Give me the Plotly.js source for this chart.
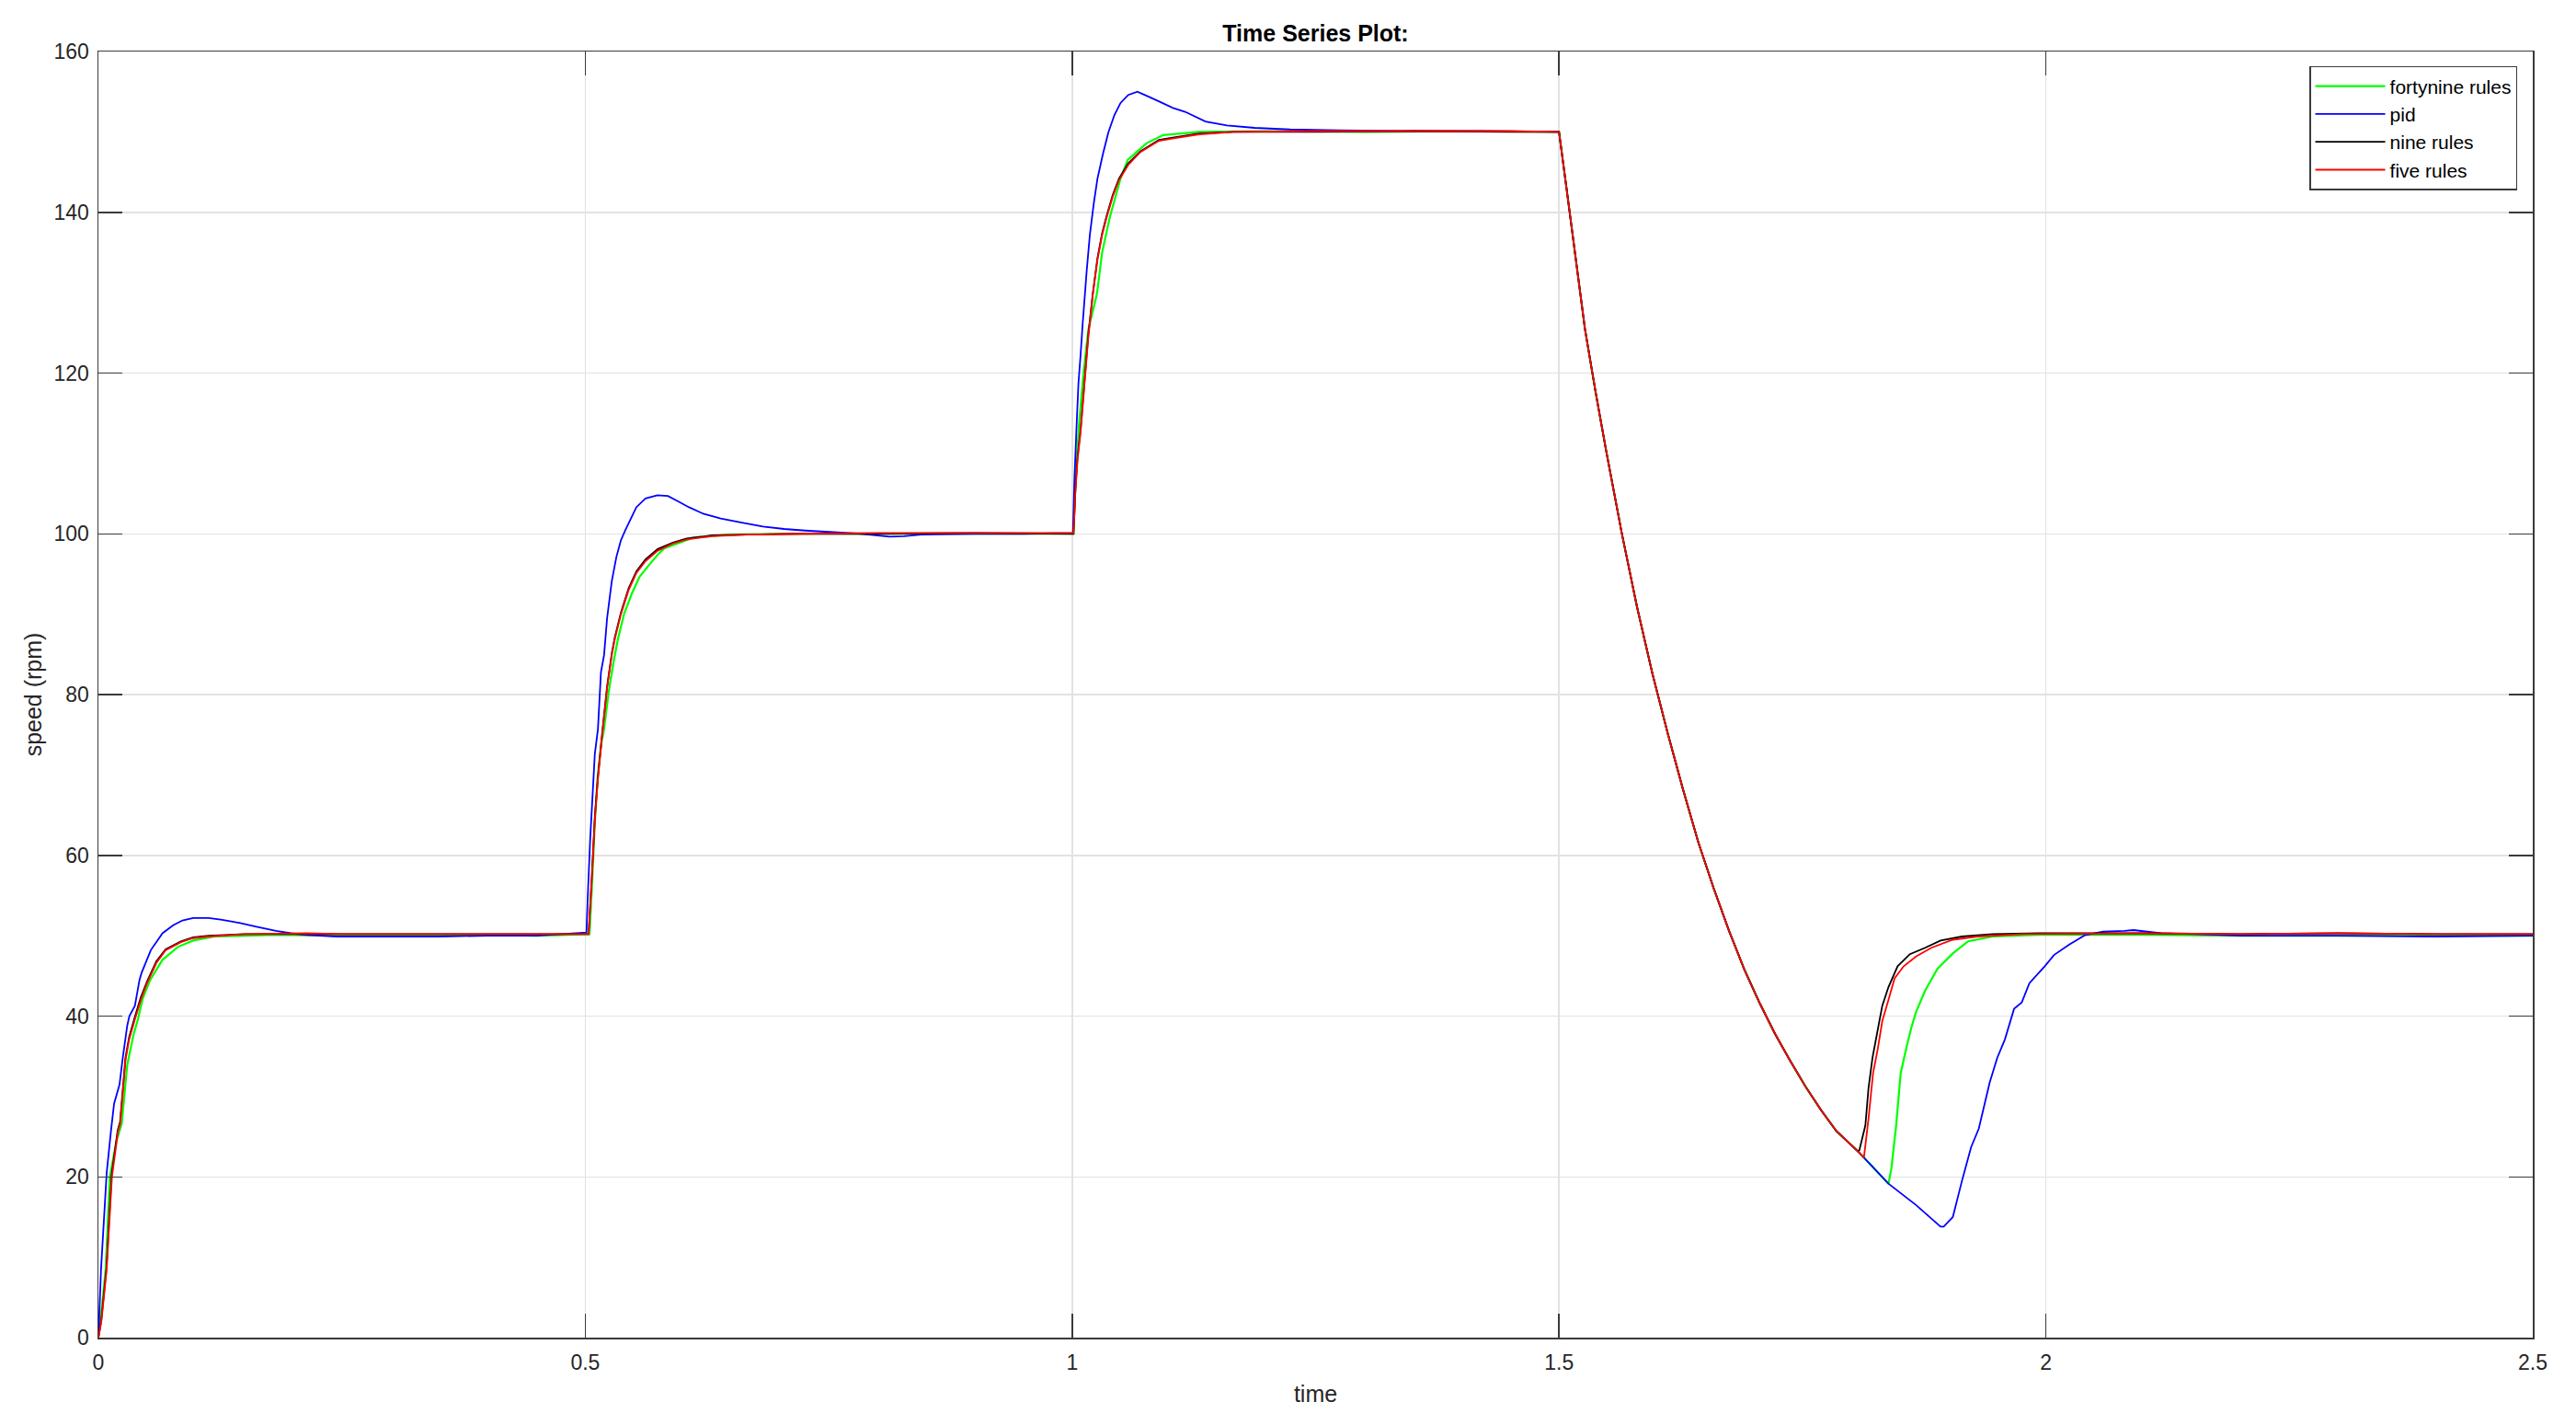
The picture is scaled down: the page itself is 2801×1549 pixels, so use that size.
<!DOCTYPE html>
<html>
<head>
<meta charset="utf-8">
<script src="https://cdn.plot.ly/plotly-3.0.1.min.js"></script>
<style>
  html, body { margin: 0; padding: 0; background: #ffffff; }
  #chart { width: 2801px; height: 1549px; }
</style>
</head>
<body>
<div id="chart"></div>
<script>
// ---- data ----
const seriesNames = ["fortynine rules", "pid", "nine rules", "five rules"];
const seriesColors = ["#00ff00", "#0000ff", "#000000", "#ff0000"];
const xTickValues = [0, 0.5, 1, 1.5, 2, 2.5];
const yTickValues = [0, 20, 40, 60, 80, 100, 120, 140, 160];

const timeFortynine = [0, 0.0025, 0.0075, 0.0117, 0.0186, 0.0239, 0.0296, 0.0359, 0.0406, 0.0453, 0.0532, 0.0658, 0.0816, 0.0973, 0.119, 0.15, 0.182, 0.25, 0.30, 0.35, 0.40, 0.45,
  0.5043, 0.507, 0.5098, 0.5125, 0.5165, 0.5193, 0.524, 0.5287, 0.5335, 0.5398, 0.5476, 0.5555, 0.5653, 0.5744, 0.5813, 0.6102, 0.6464, 0.70, 0.80, 0.90,
  1.0014, 1.0039, 1.0071, 1.0118, 1.0166, 1.0254, 1.0308, 1.0387, 1.0497, 1.057, 1.0765, 1.0936, 1.13, 1.2, 1.3, 1.4,
  1.5, 1.5077, 1.5171, 1.5266, 1.5376, 1.5486, 1.5644, 1.5801, 1.5959, 1.6116, 1.6273, 1.6431, 1.6588, 1.6746, 1.6903, 1.7061, 1.7218, 1.7376, 1.7533, 1.7691, 1.7848, 1.8068, 1.8131, 1.8383,
  1.8414, 1.8462, 1.8509, 1.8572, 1.8619, 1.8666, 1.8761, 1.8887, 1.9044, 1.9201, 1.9453, 1.9925, 2.1, 2.2, 2.3, 2.4, 2.5];
const speedFortynine = [0, 2.5, 8.5, 20.0, 24.5, 26.6, 33.9, 37.6, 39.6, 42.1, 44.5, 47.0, 48.6, 49.4, 49.9, 50.0, 50.1, 50.0, 50.1, 50.0, 50.1, 50.0,
  50.2, 56.5, 64.0, 69.5, 74.0, 75.7, 80.3, 83.8, 86.9, 90.0, 92.5, 94.6, 96.1, 97.4, 98.2, 99.5, 99.9, 100.0, 100.0, 100.0,
  100.0, 107.9, 113.6, 120.1, 125.4, 129.8, 135.0, 139.4, 144.2, 146.5, 148.6, 149.6, 150.0, 150.1, 150.0, 150.1,
  150.0, 143.0, 134.3, 125.5, 117.6, 110.2, 100.1, 90.9, 82.6, 75.2, 68.2, 61.6, 55.9, 50.6, 45.8, 41.6, 37.8, 34.4, 31.2, 28.3, 25.7, 23.2, 22.4, 19.15,
  21.1, 26.4, 32.9, 36.3, 38.6, 40.5, 43.2, 45.9, 47.8, 49.3, 49.9, 50.1, 50.1, 50.0, 50.0, 50.0, 50.0];

const timePid = [0, 0.0027, 0.0085, 0.0129, 0.0161, 0.0217, 0.0249, 0.0296, 0.0318, 0.0375, 0.0422, 0.0444, 0.0538, 0.0658, 0.0768, 0.0863, 0.0973, 0.113, 0.1256, 0.1445, 0.1634, 0.1823, 0.198, 0.2138, 0.245, 0.30, 0.35, 0.40, 0.45,
  0.5012, 0.5025, 0.505, 0.5098, 0.513, 0.5161, 0.5193, 0.5224, 0.5272, 0.5319, 0.5366, 0.5413, 0.5461, 0.5524, 0.5618, 0.574, 0.5849, 0.5958, 0.6066, 0.6211, 0.6391, 0.6609, 0.6825, 0.7042, 0.7258, 0.7548, 0.7837, 0.8126, 0.827, 0.845, 0.90, 0.95,
  1.0008, 1.0024, 1.0046, 1.0065, 1.0087, 1.0109, 1.015, 1.0182, 1.0223, 1.026, 1.0317, 1.0371, 1.0434, 1.0497, 1.0576, 1.067, 1.0765, 1.089, 1.103, 1.116, 1.137, 1.159, 1.1875, 1.224, 1.274, 1.35, 1.42,
  1.5, 1.5077, 1.5171, 1.5266, 1.5376, 1.5486, 1.5644, 1.5801, 1.5959, 1.6116, 1.6273, 1.6431, 1.6588, 1.6746, 1.6903, 1.7061, 1.7218, 1.7376, 1.7533, 1.7691, 1.7848, 1.8068, 1.8131, 1.8383, 1.8666, 1.8918, 1.895,
  1.9044, 1.9138, 1.9232, 1.9311, 1.9422, 1.95, 1.9579, 1.9673, 1.9752, 1.9831, 1.9988, 2.0083, 2.024, 2.0398, 2.0587, 2.0807, 2.09, 2.1184, 2.15, 2.2, 2.3, 2.4, 2.5];
const speedPid = [0, 8.5, 20.5, 25.7, 29.1, 31.5, 34.7, 38.8, 40.0, 41.3, 44.5, 45.4, 48.2, 50.3, 51.3, 51.9, 52.2, 52.2, 52.0, 51.6, 51.1, 50.6, 50.3, 50.1, 49.9, 49.9, 49.9, 50.0, 50.0,
  50.4, 54.7, 61.9, 72.6, 75.7, 82.8, 84.9, 89.5, 94.1, 97.1, 99.2, 100.5, 101.7, 103.3, 104.4, 104.8, 104.7, 104.0, 103.3, 102.5, 101.9, 101.4, 100.9, 100.6, 100.4, 100.2, 100.0, 99.65, 99.7, 99.9, 100.0, 100.0,
  100.1, 107.0, 113.6, 118.8, 122.3, 126.3, 132.8, 137.2, 141.2, 144.2, 147.3, 149.9, 152.1, 153.6, 154.6, 155.0, 154.5, 153.8, 153.0, 152.5, 151.3, 150.8, 150.5, 150.3, 150.2, 150.1, 150.1,
  150.0, 143.0, 134.3, 125.5, 117.6, 110.2, 100.1, 90.9, 82.6, 75.2, 68.2, 61.6, 55.9, 50.6, 45.8, 41.6, 37.8, 34.4, 31.2, 28.3, 25.7, 23.2, 22.4, 19.15, 16.5, 13.8, 13.8,
  15.0, 19.5, 23.7, 26.0, 31.7, 34.8, 37.1, 40.9, 41.7, 44.1, 46.2, 47.6, 48.9, 50.05, 50.5, 50.6, 50.7, 50.3, 50.2, 50.0, 50.0, 49.9, 50.0];

const timeNine = [0, 0.003, 0.0083, 0.0135, 0.0198, 0.0222, 0.0278, 0.0316, 0.0372, 0.0435, 0.05, 0.0595, 0.069, 0.0847, 0.0973, 0.113, 0.151, 0.214, 0.30, 0.40,
  0.5034, 0.5066, 0.5098, 0.513, 0.5176, 0.5224, 0.5272, 0.5303, 0.5366, 0.5445, 0.5524, 0.5618, 0.5744, 0.59, 0.6041, 0.63, 0.666, 0.72, 0.80, 0.90,
  1.0014, 1.0033, 1.0055, 1.0087, 1.0119, 1.0166, 1.0213, 1.026, 1.0308, 1.0355, 1.0418, 1.0481, 1.0576, 1.0702, 1.0891, 1.1302, 1.1658, 1.25, 1.35, 1.45,
  1.5, 1.5077, 1.5171, 1.5266, 1.5376, 1.5486, 1.5644, 1.5801, 1.5959, 1.6116, 1.6273, 1.6431, 1.6588, 1.6746, 1.6903, 1.7061, 1.7218, 1.7376, 1.7533, 1.7691, 1.7848, 1.8068, 1.8084,
  1.8146, 1.8178, 1.8219, 1.8263, 1.832, 1.8383, 1.8477, 1.8603, 1.876, 1.8918, 1.9138, 1.9453, 1.9925, 2.1, 2.2, 2.3, 2.4, 2.5];
const speedNine = [0, 2.2, 8.7, 20.2, 25.8, 26.8, 34.8, 37.4, 39.8, 42.3, 44.3, 46.8, 48.3, 49.3, 49.8, 50.0, 50.2, 50.2, 50.2, 50.2,
  50.2, 57.2, 64.8, 69.8, 75.5, 81.0, 85.1, 87.1, 90.2, 93.2, 95.3, 96.8, 98.1, 98.9, 99.4, 99.8, 99.9, 100.0, 100.0, 100.1,
  100.0, 105.4, 109.5, 113.0, 117.8, 124.8, 130.0, 134.3, 137.4, 139.6, 142.2, 144.2, 146.1, 147.6, 149.0, 149.8, 150.0, 150.0, 150.1, 150.0,
  150.0, 143.0, 134.3, 125.5, 117.6, 110.2, 100.1, 90.9, 82.6, 75.2, 68.2, 61.6, 55.9, 50.6, 45.8, 41.6, 37.8, 34.4, 31.2, 28.3, 25.7, 23.2, 23.3,
  26.4, 31.0, 34.8, 37.65, 41.3, 43.6, 46.2, 47.7, 48.5, 49.4, 49.9, 50.2, 50.3, 50.3, 50.2, 50.3, 50.2, 50.2];

const timeFive = [0, 0.003, 0.0085, 0.0139, 0.0202, 0.0224, 0.028, 0.0318, 0.0375, 0.0438, 0.05, 0.0595, 0.069, 0.0847, 0.0973, 0.113, 0.151, 0.214, 0.25, 0.30, 0.35, 0.40, 0.45,
  0.5034, 0.5066, 0.5098, 0.513, 0.5176, 0.5224, 0.5272, 0.5303, 0.5366, 0.5445, 0.5524, 0.5618, 0.5744, 0.59, 0.6041, 0.63, 0.666, 0.72, 0.80, 0.90,
  1.0014, 1.0033, 1.0055, 1.0087, 1.0119, 1.0166, 1.0213, 1.026, 1.0308, 1.0355, 1.0418, 1.0481, 1.0576, 1.0702, 1.0891, 1.1302, 1.1658, 1.25, 1.35, 1.45,
  1.5, 1.5077, 1.5171, 1.5266, 1.5376, 1.5486, 1.5644, 1.5801, 1.5959, 1.6116, 1.6273, 1.6431, 1.6588, 1.6746, 1.6903, 1.7061, 1.7218, 1.7376, 1.7533, 1.7691, 1.7848, 1.8068, 1.8131,
  1.8178, 1.8225, 1.8273, 1.832, 1.8383, 1.8446, 1.854, 1.8666, 1.8824, 1.9044, 1.9296, 1.9768, 2.1, 2.2, 2.3, 2.4, 2.5];
const speedFive = [0, 2.0, 8.5, 20.0, 25.7, 26.6, 34.7, 37.2, 39.6, 42.1, 44.1, 46.6, 48.2, 49.2, 49.7, 49.9, 50.2, 50.3, 50.2, 50.2, 50.2, 50.2, 50.2,
  50.2, 56.8, 64.4, 69.5, 75.2, 80.8, 84.9, 86.9, 90.0, 93.0, 95.1, 96.6, 97.9, 98.8, 99.3, 99.7, 99.9, 100.0, 100.1, 100.1,
  100.1, 105.2, 109.2, 112.7, 117.5, 124.5, 129.8, 134.1, 137.2, 139.4, 142.0, 144.0, 145.9, 147.5, 148.9, 149.7, 150.0, 150.1, 150.1, 150.1,
  150.0, 143.0, 134.3, 125.5, 117.6, 110.2, 100.1, 90.9, 82.6, 75.2, 68.2, 61.6, 55.9, 50.6, 45.8, 41.6, 37.8, 34.4, 31.2, 28.3, 25.7, 23.2, 22.4,
  27.2, 32.9, 35.9, 39.4, 42.0, 44.7, 46.2, 47.4, 48.5, 49.5, 49.9, 50.2, 50.3, 50.2, 50.3, 50.2, 50.2];

// ---- chart ----
const times = [timeFortynine, timePid, timeNine, timeFive];
const speeds = [speedFortynine, speedPid, speedNine, speedFive];
const traces = seriesNames.map((name, i) => ({
  type: 'scatter',
  mode: 'lines',
  name: name,
  x: times[i],
  y: speeds[i],
  line: { color: seriesColors[i], width: i === 0 ? 2.2 : 1.8, simplify: false }
}));

const fontFam = 'Liberation Sans, Arial, Helvetica, sans-serif';
const axisCommon = {
  showline: true,
  linecolor: '#3a3a3a',
  linewidth: 1.5,
  mirror: 'ticks',
  ticks: 'inside',
  ticklen: 26,
  tickwidth: 1.5,
  tickcolor: '#3a3a3a',
  showgrid: true,
  gridcolor: '#e2e2e2',
  gridwidth: 1.5,
  zeroline: false,
  tickfont: { family: fontFam, size: 23, color: '#262626' }
};

const layout = {
  width: 2801,
  height: 1549,
  paper_bgcolor: '#ffffff',
  plot_bgcolor: '#ffffff',
  margin: { l: 107, r: 47, t: 56, b: 95 },
  showlegend: true,
  title: {
    text: '<b>Time Series Plot:</b>',
    font: { family: fontFam, size: 25, color: '#000000' },
    x: 0.5, xref: 'paper', xanchor: 'center',
    y: 1 - 36 / 1549, yref: 'container', yanchor: 'middle'
  },
  xaxis: Object.assign({}, axisCommon, {
    range: [0, 2.5],
    tickvals: xTickValues,
    ticklabelstandoff: 6,
    title: { text: 'time', font: { family: fontFam, size: 25, color: '#262626' }, standoff: 13 }
  }),
  yaxis: Object.assign({}, axisCommon, {
    range: [0, 160],
    tickvals: yTickValues,
    ticklabelstandoff: 4,
    title: { text: 'speed (rpm)', font: { family: fontFam, size: 25, color: '#262626' }, standoff: 6 }
  }),
  legend: {
    x: 0.9936, y: 0.9886, xanchor: 'right', yanchor: 'top',
    xref: 'paper', yref: 'paper',
    bgcolor: '#ffffff',
    bordercolor: '#3a3a3a',
    borderwidth: 1.5,
    font: { family: fontFam, size: 21, color: '#000000' },
    itemwidth: 76,
    tracegroupgap: 0
  }
};

Plotly.newPlot('chart', traces, layout, { displayModeBar: false, staticPlot: true });
</script>
</body>
</html>
